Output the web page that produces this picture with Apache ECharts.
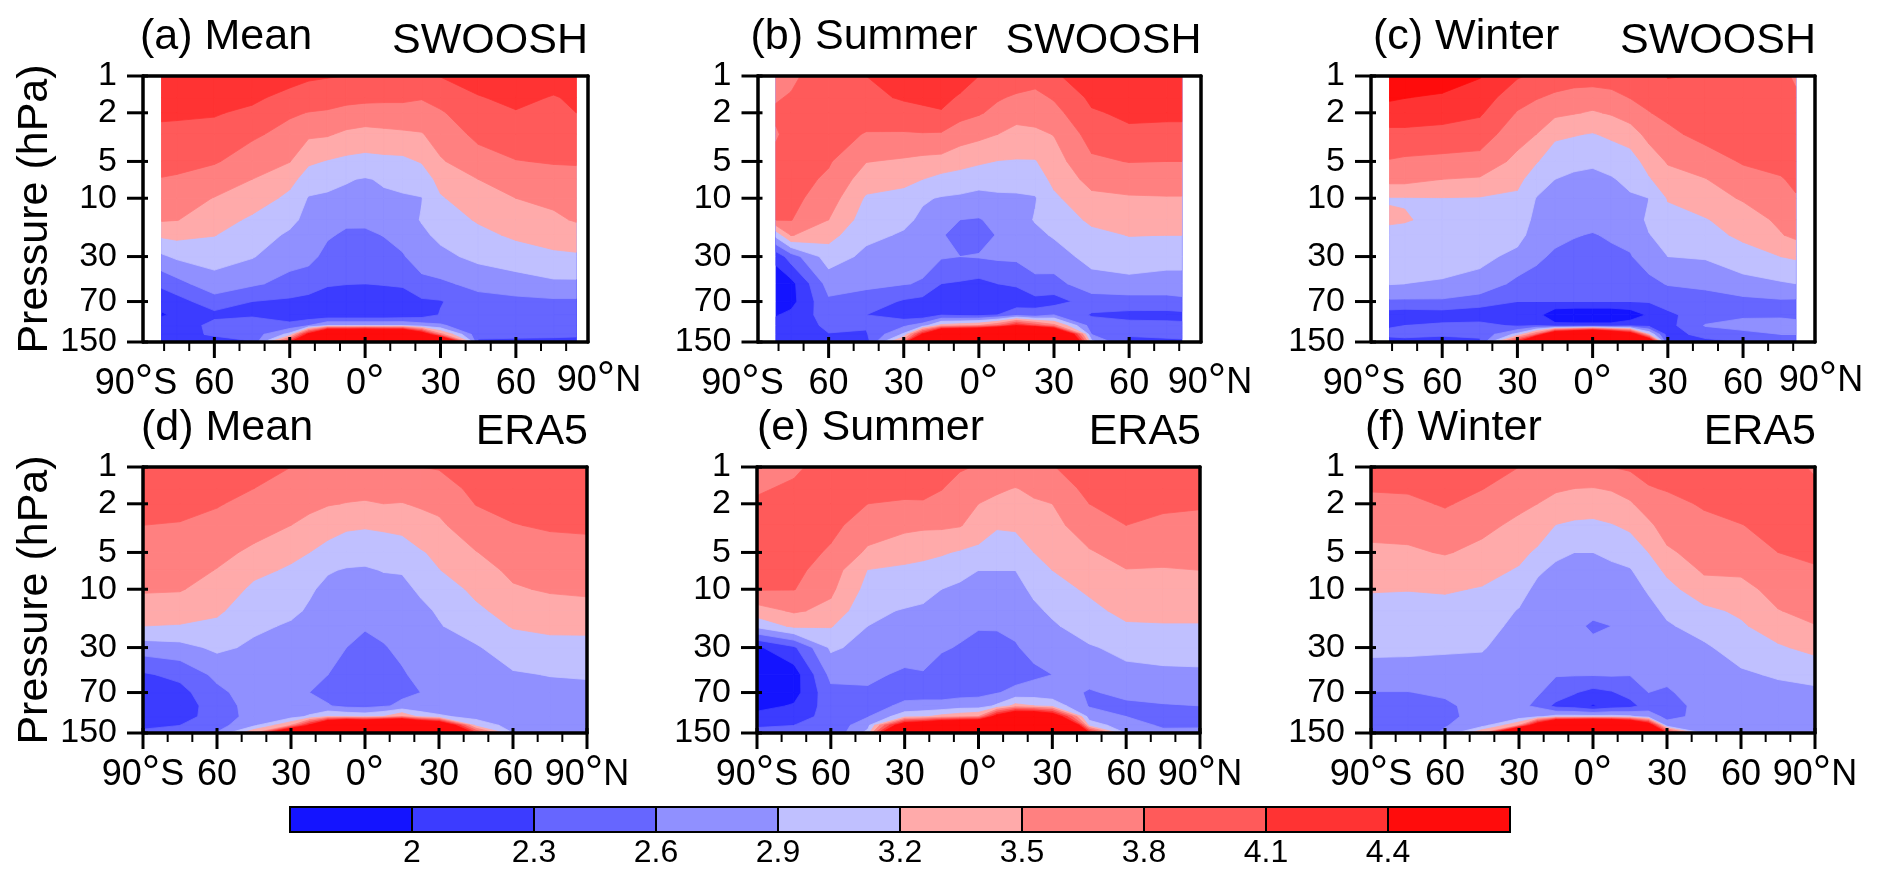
<!DOCTYPE html>
<html><head><meta charset="utf-8"><style>html,body{margin:0;padding:0;background:#fff}#c{width:1892px;height:883px}</style>
<script src="https://cdn.jsdelivr.net/npm/echarts@6/dist/echarts.min.js"></script></head><body><div id="c"></div>
<script>
const pressures=[1,1.5,2,3,5,7,10,15,20,30,50,70,90,110,130,150];
const latsEra=[-90,-75,-60,-45,-30,-22.5,-15,-7.5,0,7.5,15,22.5,30,45,60,75,90];
const latsA=[-81,-75,-60,-45,-30,-22.5,-15,-7.5,0,7.5,15,22.5,30,45,60,75,84];
const latsBC=[-81,-75,-60,-45,-30,-22.5,-15,-7.5,0,7.5,15,22.5,30,45,60,75,81];
const levels=[1.7,2,2.3,2.6,2.9,3.2,3.5,3.8,4.1,4.4,4.7];
const levelLabels=[2,2.3,2.6,2.9,3.2,3.5,3.8,4.1,4.4];
const bandColors=['#1414ff','#3c3cff','#6666ff','#9090ff','#c0c0ff','#ffaaaa','#ff8080','#ff5a5a','#ff3333','#ff0c0c'];
const yTicks=[1,2,5,10,30,70,150];
const xMinorTicks=[-80,-70,-50,-40,-20,-10,10,20,40,50,70,80];
// each inner list = one latitude column, top (1 hPa) to bottom (150 hPa)
const swooshMean=[
[4.35,4.25,4.15,4.03,3.88,3.79,3.65,3.53,3.25,2.85,2.38,2.07,1.98,2.12,2.24,2.2],
[4.33,4.23,4.14,4.03,3.88,3.77,3.62,3.51,3.28,2.95,2.5,2.18,2.03,2.1,2.22,2.2],
[4.35,4.22,4.12,4.02,3.83,3.65,3.49,3.36,3.21,3.02,2.78,2.47,2.22,2.4,2.33,2.2],
[4.3,4.15,4.05,3.85,3.65,3.5,3.38,3.14,3.03,2.92,2.65,2.3,2.28,2.38,2.42,2.28],
[4.2,4.02,3.84,3.7,3.51,3.3,3.12,2.97,2.86,2.72,2.5,2.25,2.1,2.4,3.0,4.3],
[4.14,3.97,3.79,3.55,3.25,3.05,2.88,2.82,2.76,2.68,2.45,2.2,2.06,2.6,4.6,7.5],
[4.12,3.92,3.77,3.53,3.18,3.0,2.85,2.72,2.63,2.52,2.33,2.15,2.05,2.9,6.6,8],
[4.1,3.88,3.72,3.44,3.13,2.92,2.84,2.65,2.56,2.45,2.31,2.12,2.05,2.9,6.6,8.3],
[4.08,3.87,3.68,3.4,3.1,2.88,2.83,2.66,2.55,2.43,2.3,2.1,2.05,2.9,6.8,8.5],
[4.08,3.86,3.68,3.43,3.12,2.93,2.86,2.69,2.61,2.5,2.32,2.12,2.05,2.9,6.6,8.2],
[4.08,3.85,3.7,3.45,3.13,2.98,2.87,2.76,2.68,2.58,2.34,2.15,2.08,2.9,6.5,8],
[4.08,3.82,3.68,3.48,3.22,3.03,2.89,2.92,2.84,2.72,2.53,2.25,2.15,2.75,5,7.5],
[4.11,3.9,3.77,3.63,3.47,3.3,3.17,3.05,2.97,2.82,2.55,2.28,2.32,2.65,3.6,6.5],
[4.25,4.08,3.98,3.87,3.68,3.5,3.38,3.23,3.12,2.98,2.68,2.5,2.42,2.35,2.38,2.25],
[4.3,4.18,4.08,3.95,3.79,3.66,3.5,3.36,3.25,3.05,2.78,2.52,2.44,2.4,2.35,2.25],
[4.25,4.08,4.08,3.97,3.82,3.7,3.55,3.46,3.33,3.14,2.85,2.55,2.42,2.4,2.36,2.22],
[4.2,4.15,4.1,3.98,3.83,3.7,3.58,3.52,3.4,3.15,2.85,2.55,2.35,2.38,2.35,2.2]];
const swooshSummer=[
[3.7,3.77,3.85,3.77,3.88,3.88,3.86,3.81,3.0,2.1,1.8,1.75,1.98,2.1,2.2,2.25],
[3.72,3.83,3.88,3.9,3.92,3.92,3.88,3.81,3.52,2.45,1.9,1.9,2.07,2.15,2.22,2.25],
[4.05,4.02,3.98,3.93,3.83,3.75,3.65,3.5,3.3,3.05,2.72,2.55,2.45,2.35,2.29,2.15],
[4.1,4.03,3.94,3.78,3.51,3.35,3.16,3.05,2.97,2.83,2.66,2.48,2.3,2.33,2.27,2.15],
[4.25,4.13,4.0,3.77,3.46,3.28,3.1,2.96,2.87,2.76,2.62,2.26,2.12,2.55,2.95,3.8],
[4.28,4.15,4.05,3.78,3.42,3.2,2.93,2.85,2.8,2.72,2.57,2.2,2.1,2.75,4.5,7.5],
[4.3,4.17,4.08,3.77,3.4,3.1,2.88,2.72,2.62,2.63,2.3,2.12,2.28,3.3,6.3,8],
[4.22,4.07,3.9,3.65,3.3,3.08,2.85,2.6,2.52,2.6,2.27,2.1,2.22,3.4,6.5,8.2],
[4.1,3.92,3.83,3.58,3.24,3.03,2.8,2.58,2.48,2.62,2.22,2.08,2.2,3.5,6.8,8.5],
[4.03,3.83,3.72,3.5,3.19,3.03,2.84,2.68,2.62,2.65,2.3,2.12,2.3,3.8,7.5,9],
[3.97,3.76,3.62,3.4,3.18,3.03,2.85,2.77,2.72,2.66,2.34,2.12,2.5,4.4,8,9],
[3.92,3.72,3.62,3.44,3.18,3.03,2.88,2.92,2.83,2.74,2.52,2.2,2.4,4,7.5,9],
[4.05,3.83,3.7,3.51,3.37,3.28,3.14,3.0,2.93,2.77,2.5,2.17,2.6,3.6,6.5,8],
[4.3,4.16,4.07,3.92,3.75,3.6,3.43,3.26,3.12,3.0,2.78,2.45,2.27,2.45,2.6,3.0],
[4.35,4.25,4.15,4.05,3.81,3.65,3.47,3.32,3.21,3.05,2.82,2.47,2.22,2.38,2.33,2.22],
[4.35,4.25,4.15,4.03,3.8,3.66,3.48,3.3,3.2,3.03,2.77,2.5,2.2,2.38,2.35,2.25],
[4.35,4.25,4.15,4.03,3.8,3.66,3.48,3.3,3.2,3.02,2.78,2.53,2.22,2.35,2.33,2.28]];
const swooshWinter=[
[4.6,4.45,4.25,4.03,3.78,3.6,3.18,3.24,3.12,3.02,2.92,2.55,2.15,2.28,2.35,2.2],
[4.6,4.41,4.25,4.03,3.75,3.6,3.18,3.22,3.12,3.02,2.9,2.55,2.12,2.3,2.38,2.2],
[4.6,4.35,4.22,4.0,3.72,3.5,3.19,3.13,3.07,2.99,2.88,2.55,2.15,2.35,2.33,2.2],
[4.42,4.25,4.14,3.95,3.7,3.47,3.18,3.1,3.05,2.98,2.8,2.45,2.1,2.4,2.35,2.25],
[4.13,3.92,3.78,3.62,3.42,3.27,3.15,3.08,3.0,2.82,2.52,2.3,2.12,2.25,3.0,4.4],
[4.05,3.82,3.68,3.5,3.22,3.06,2.89,2.82,2.77,2.66,2.48,2.3,2.12,2.3,3.8,6.5],
[3.95,3.75,3.57,3.25,3.05,2.9,2.87,2.75,2.68,2.55,2.42,2.3,1.75,2.1,5.5,8],
[3.96,3.67,3.52,3.22,2.97,2.85,2.85,2.72,2.62,2.5,2.4,2.3,1.7,2.1,6,8.2],
[3.95,3.65,3.47,3.18,2.95,2.82,2.83,2.7,2.58,2.48,2.37,2.3,1.7,2.1,6.6,8.5],
[3.93,3.72,3.53,3.26,2.99,2.88,2.86,2.72,2.64,2.53,2.38,2.3,1.7,2.1,5.8,8.2],
[3.95,3.81,3.65,3.35,3.06,2.96,2.87,2.75,2.68,2.58,2.4,2.3,1.8,2.2,5,8],
[3.95,3.88,3.79,3.6,3.32,3.17,2.9,2.95,2.89,2.75,2.52,2.32,2.05,2.2,3.2,5.5],
[4.12,3.95,3.87,3.73,3.53,3.38,3.22,3.1,3.0,2.9,2.62,2.42,2.24,2.2,2.15,2.1],
[4.08,4.02,3.98,3.9,3.65,3.49,3.37,3.18,3.1,2.93,2.67,2.47,2.45,2.62,2.42,2.2],
[4.05,4.03,4.0,3.93,3.83,3.68,3.53,3.35,3.26,3.08,2.8,2.52,2.57,2.66,2.55,2.3],
[3.98,4.05,4.03,3.97,3.88,3.78,3.65,3.56,3.48,3.2,2.87,2.56,2.55,2.72,2.6,2.35],
[3.7,3.9,3.98,3.95,3.88,3.85,3.78,3.63,3.57,3.24,2.9,2.55,2.52,2.7,2.6,2.4]];
const eraMean=[
[3.97,3.89,3.84,3.8,3.68,3.6,3.53,3.37,3.2,2.75,2.26,2.15,2.12,2.17,2.27,2.33],
[3.98,3.9,3.85,3.79,3.68,3.6,3.52,3.35,3.18,2.8,2.38,2.2,2.14,2.19,2.3,2.35],
[3.98,3.88,3.82,3.72,3.57,3.49,3.38,3.25,3.13,2.96,2.67,2.53,2.45,2.42,2.48,2.62],
[3.94,3.8,3.72,3.6,3.45,3.27,3.14,3.02,2.95,2.85,2.78,2.74,2.72,2.72,2.85,3.5],
[3.8,3.67,3.6,3.5,3.27,3.16,3.06,2.95,2.87,2.76,2.67,2.6,2.65,2.78,3.5,6],
[3.79,3.65,3.57,3.42,3.2,3.05,2.93,2.87,2.8,2.72,2.65,2.6,2.65,2.95,4.5,7],
[3.78,3.63,3.52,3.32,3.1,2.92,2.84,2.78,2.73,2.67,2.6,2.52,2.62,3.2,6,8],
[3.78,3.6,3.49,3.25,3.02,2.88,2.81,2.73,2.68,2.6,2.46,2.45,2.52,3.15,6.8,8.5],
[3.78,3.6,3.47,3.23,3.0,2.87,2.78,2.69,2.63,2.5,2.4,2.42,2.5,3.1,6.5,8.5],
[3.78,3.6,3.5,3.25,3.04,2.91,2.82,2.73,2.67,2.58,2.48,2.48,2.57,3.2,7,8.7],
[3.78,3.6,3.49,3.27,3.08,2.92,2.83,2.76,2.72,2.66,2.57,2.55,2.65,3.5,7,8.5],
[3.8,3.63,3.53,3.4,3.17,3.07,2.94,2.84,2.8,2.74,2.67,2.6,2.67,3.1,6,8],
[3.82,3.68,3.57,3.45,3.27,3.19,3.06,2.93,2.88,2.8,2.73,2.69,2.7,2.95,5.5,7.5],
[4.0,3.87,3.81,3.68,3.49,3.38,3.26,3.15,3.05,2.87,2.75,2.72,2.72,2.8,3.1,4.2],
[4.0,3.92,3.87,3.79,3.65,3.56,3.47,3.3,3.22,3.06,2.87,2.8,2.77,2.76,2.78,2.9],
[4.0,3.95,3.9,3.83,3.7,3.6,3.53,3.38,3.29,3.07,2.91,2.82,2.78,2.76,2.75,2.78],
[4.0,3.95,3.9,3.84,3.72,3.62,3.56,3.39,3.29,3.08,2.93,2.82,2.77,2.74,2.74,2.75]];
const eraSummer=[
[3.62,3.75,3.86,3.94,3.97,3.93,3.82,3.37,2.98,1.95,1.8,1.78,1.9,2.1,2.28,2.35],
[3.72,3.87,3.92,3.95,3.93,3.88,3.81,3.54,3.26,2.25,1.85,1.88,2.03,2.15,2.3,2.4],
[4.0,3.98,3.93,3.88,3.76,3.65,3.56,3.42,3.22,2.95,2.68,2.52,2.45,2.42,2.38,2.33],
[4.0,3.95,3.8,3.65,3.45,3.19,3.1,2.96,2.9,2.8,2.66,2.56,2.5,2.58,2.8,3.0],
[3.95,3.85,3.78,3.58,3.3,3.15,3.05,2.88,2.82,2.74,2.55,2.52,2.65,3.1,5,7],
[3.92,3.83,3.79,3.55,3.27,3.12,2.98,2.86,2.8,2.72,2.58,2.5,2.68,3.15,5.3,7.5],
[3.9,3.81,3.72,3.55,3.23,3.07,2.9,2.8,2.72,2.63,2.48,2.5,2.68,3.3,5.8,8],
[3.83,3.7,3.62,3.52,3.17,2.98,2.85,2.74,2.67,2.58,2.42,2.5,2.75,3.4,6,8.3],
[3.78,3.6,3.5,3.36,3.13,2.9,2.8,2.68,2.62,2.52,2.4,2.52,2.75,3.5,6,8.5],
[3.7,3.54,3.44,3.23,3.04,2.9,2.8,2.68,2.62,2.53,2.42,2.58,2.95,4.7,7.5,9],
[3.72,3.49,3.4,3.24,3.07,2.9,2.8,2.7,2.65,2.58,2.48,2.68,3.3,5.5,8,9],
[3.72,3.55,3.47,3.36,3.2,3.1,2.96,2.84,2.76,2.67,2.55,2.72,3.2,5.5,8,9],
[3.78,3.65,3.5,3.4,3.28,3.2,3.1,2.95,2.86,2.74,2.6,2.7,3.1,5,8,9],
[4.0,3.87,3.8,3.68,3.47,3.32,3.24,3.13,3.05,2.87,2.68,2.58,2.58,2.75,3.1,4.5],
[4.02,3.95,3.9,3.8,3.62,3.49,3.38,3.27,3.17,2.98,2.82,2.65,2.56,2.6,2.7,2.85],
[4.02,3.92,3.85,3.74,3.6,3.48,3.38,3.28,3.18,3.0,2.85,2.7,2.58,2.5,2.57,2.65],
[3.95,3.88,3.83,3.72,3.58,3.5,3.38,3.28,3.18,3.0,2.86,2.72,2.6,2.48,2.55,2.7]];
const eraWinter=[
[3.95,3.82,3.73,3.6,3.44,3.36,3.22,3.1,3.05,2.97,2.78,2.59,2.52,2.48,2.45,2.4],
[3.98,3.84,3.73,3.6,3.46,3.36,3.21,3.1,3.05,2.96,2.78,2.59,2.5,2.46,2.44,2.4],
[4.05,3.93,3.83,3.68,3.52,3.38,3.23,3.1,3.05,2.95,2.75,2.65,2.54,2.52,2.58,2.65],
[3.95,3.81,3.7,3.57,3.43,3.3,3.18,3.08,3.0,2.92,2.8,2.75,2.72,2.72,2.78,3.5],
[3.8,3.66,3.56,3.44,3.28,3.17,3.02,2.88,2.83,2.77,2.71,2.68,2.66,2.72,3.5,7],
[3.76,3.6,3.5,3.37,3.15,2.95,2.82,2.75,2.72,2.7,2.65,2.62,2.55,2.85,5,8],
[3.73,3.53,3.42,3.19,2.97,2.83,2.76,2.7,2.68,2.65,2.61,2.52,2.2,3.0,7,9],
[3.73,3.5,3.38,3.14,2.9,2.83,2.75,2.7,2.67,2.65,2.62,2.32,2.15,3.0,7.2,9],
[3.72,3.49,3.35,3.13,2.9,2.8,2.72,2.68,2.55,2.68,2.62,2.2,1.97,3.0,7.5,9],
[3.8,3.52,3.4,3.18,2.95,2.85,2.77,2.68,2.6,2.67,2.63,2.27,2.12,3.0,7.2,9],
[3.85,3.6,3.47,3.26,3.02,2.88,2.79,2.72,2.68,2.65,2.61,2.42,2.18,2.95,6.5,8.5],
[3.9,3.78,3.62,3.45,3.2,3.05,2.93,2.82,2.78,2.72,2.66,2.6,2.46,2.75,5,8.5],
[3.97,3.82,3.72,3.61,3.46,3.26,3.1,2.95,2.87,2.8,2.66,2.57,2.48,2.52,2.72,4.4],
[4.07,3.93,3.83,3.73,3.6,3.54,3.38,3.13,3.0,2.86,2.76,2.72,2.7,2.68,2.7,2.85],
[4.08,4.0,3.93,3.79,3.65,3.55,3.41,3.25,3.16,3.02,2.86,2.78,2.75,2.72,2.72,2.72],
[4.08,4.03,3.97,3.9,3.8,3.72,3.6,3.49,3.36,3.16,2.93,2.82,2.77,2.74,2.73,2.75],
[3.72,3.9,3.93,3.88,3.82,3.79,3.68,3.58,3.49,3.29,2.98,2.85,2.8,2.77,2.76,2.8]];

const panels=[
{v:swooshMean,lats:latsA,box:[143,76,588,342],top:true,t:'(a) Mean',tl:140,src:'SWOOSH',sr:588,ylab:true,off:[-7,11],dy:-3},
{v:swooshSummer,lats:latsBC,box:[757.5,76,1201,342],top:true,t:'(b) Summer',tl:750.5,src:'SWOOSH',sr:1201.5,off:[-15,9],dy:-1},
{v:swooshWinter,lats:latsBC,box:[1371,76,1815,342],top:true,t:'(c) Winter',tl:1373,src:'SWOOSH',sr:1816,off:[-7,6],dy:-3},
{v:eraMean,lats:latsEra,box:[143,467,587,733],t:'(d) Mean',tl:141,src:'ERA5',sr:588,ylab:true,off:[0,0],dy:0},
{v:eraSummer,lats:latsEra,box:[757,467,1200,733],t:'(e) Summer',tl:757,src:'ERA5',sr:1201,off:[0,0],dy:0},
{v:eraWinter,lats:latsEra,box:[1371,467,1815,733],t:'(f) Winter',tl:1365,src:'ERA5',sr:1816,off:[0,0],dy:0}];

const FF='"Liberation Sans",Arial,sans-serif';
const grid=[],xAxis=[],yAxis=[],series=[],title=[];
function clip(poly,t){const out=[];for(let i=0;i<poly.length;i++){const a=poly[i],b=poly[(i+1)%poly.length];
 if(a[2]>=t)out.push(a);
 if((a[2]>=t)!==(b[2]>=t)){const f=(t-a[2])/(b[2]-a[2]);out.push([a[0]+f*(b[0]-a[0]),a[1]+f*(b[1]-a[1]),t]);}}
 return out;}
function contourItem(P){return function(params,api){
 const k=api.value(2),lo=k===0?-Infinity:levels[k],col=bandColors[k],children=[];
 const pt=P.v.map((c,i)=>c.map((val,j)=>{const q=api.coord([P.lats[i],pressures[j]]);return [q[0],q[1],val];}));
 for(let i=0;i<pt.length-1;i++)for(let j=0;j<pressures.length-1;j++){
  const poly=clip([pt[i][j],pt[i+1][j],pt[i+1][j+1],pt[i][j+1]],lo);
  if(poly.length>2)children.push({type:'polygon',silent:true,shape:{points:poly.map(p=>[p[0],p[1]])},style:{fill:col,stroke:col,lineWidth:0.8}});
 }
 return {type:'group',children};};}
function tickItem(xmin){return function(params,api){
 const kind=api.value(0),v=api.value(1);let s;
 if(kind<2){const p=api.coord([v,150]);s=kind===0?[p[0],p[1]-5,p[0],p[1]+16]:[p[0],p[1],p[0],p[1]+9];}
 else{const p=api.coord([xmin,v]);s=[p[0]-16,p[1],p[0]+5,p[1]];}
 return {type:'line',silent:true,shape:{x1:s[0],y1:s[1],x2:s[2],y2:s[3]},style:{stroke:'#000',lineWidth:kind===1?2:3}};};}
panels.forEach((P,n)=>{
 const [l,t,r,b]=P.box,gi=grid.length;
 grid.push({left:l,top:t,width:r-l,height:b-t});
 const xmin=P.top?-88.4:-90,xmax=P.top?88.7:90;
 const innerVals=[-60,-30,0,30,60];
 const innerTxt=['{n|60}','{n|30}','{n|0}{d|°}','{n|30}','{n|60}'];
 const majT=P.top?[-60,-30,0,30,60]:[-90,-60,-30,0,30,60,90];
 const line={show:true,onZero:false,lineStyle:{color:'#000',width:3.5}};
 const hidden={show:false,onZero:false};
 const xs=xAxis.length;
 const txt={fontFamily:FF,fontSize:36,color:'#000',lineHeight:46};
 const rich={n:txt,d:{fontFamily:FF,fontSize:46,color:'#000',lineHeight:46},
   s:Object.assign({},txt,{padding:[0,-2*P.off[0],0,0]}),
   b:Object.assign({},txt,{padding:[0,0,0,2*P.off[1]]})};
 const ax=(extra)=>Object.assign({min:xmin,max:xmax,type:'value',gridIndex:gi,z:10,splitLine:{show:false},axisTick:{show:false},position:'bottom'},extra);
 xAxis.push(ax({axisLine:line,axisLabel:Object.assign({show:true,customValues:innerVals,margin:19,hideOverlap:false,
     formatter:v=>innerTxt[innerVals.indexOf(v)],rich},txt)}));
 xAxis.push(ax({axisLine:hidden,axisLabel:Object.assign({show:true,customValues:[xmin],margin:19,hideOverlap:false,showMinLabel:true,
     formatter:()=>'{n|90}{d|°}{s|S}',rich},txt)}));
 xAxis.push(ax({axisLine:hidden,axisLabel:Object.assign({show:true,customValues:[xmax],margin:19+P.dy,hideOverlap:false,showMaxLabel:true,
     formatter:()=>'{b|90}{d|°}{n|N}',rich},txt)}));
 xAxis.push(ax({position:'top',axisLine:line,axisLabel:{show:false}}));
 const ys=yAxis.length;
 yAxis.push({type:'log',logBase:10,min:1,max:150,inverse:true,gridIndex:gi,z:10,splitLine:{show:false},axisTick:{show:false},position:'left',axisLine:line,
   axisLabel:{show:true,customValues:yTicks,margin:26,fontFamily:FF,fontSize:34,color:'#000',formatter:v=>String(Math.round(v))},
   name:P.ylab?'Pressure (hPa)':'',nameLocation:'middle',nameRotate:90,nameGap:86,nameTextStyle:{fontFamily:FF,fontSize:43,color:'#000'}});
 yAxis.push({type:'log',logBase:10,min:1,max:150,inverse:true,gridIndex:gi,z:10,splitLine:{show:false},axisTick:{show:false},axisLabel:{show:false},position:'right',axisLine:line});
 series.push({type:'custom',coordinateSystem:'cartesian2d',xAxisIndex:xs,yAxisIndex:ys,clip:true,silent:true,animation:false,z:2,
   data:bandColors.map((c,k)=>[0,10,k]),encode:{x:0,y:1},renderItem:contourItem(P)});
 const tickData=[...majT.map(v=>[0,v]),...xMinorTicks.map(v=>[1,v]),...yTicks.map(v=>[2,v])];
 series.push({type:'custom',coordinateSystem:'cartesian2d',xAxisIndex:xs,yAxisIndex:ys,clip:false,silent:true,animation:false,z:20,
   data:tickData,encode:{},renderItem:tickItem(xmin)});
 title.push({text:P.t,left:P.tl,top:t-60,padding:0,textStyle:{fontFamily:FF,fontSize:43,fontWeight:'normal',color:'#000'}});
 title.push({text:P.src,right:1892-P.sr,top:t-56,padding:0,textStyle:{fontFamily:FF,fontSize:43,fontWeight:'normal',color:'#000'}});
});
// colour bar
const gc=grid.length;
grid.push({left:290,top:807,width:1220,height:25});
const xc=xAxis.length,yc=yAxis.length;
xAxis.push({type:'value',gridIndex:gc,min:1.7,max:4.7,splitLine:{show:false},axisTick:{show:false},axisLine:{show:false,onZero:false},
  axisLabel:{customValues:levelLabels,margin:5,fontFamily:FF,fontSize:32,color:'#000',formatter:v=>String(v)}});
yAxis.push({type:'value',gridIndex:gc,min:0,max:1,splitLine:{show:false},axisTick:{show:false},axisLine:{show:false,onZero:false},axisLabel:{show:false}});
series.push({type:'custom',xAxisIndex:xc,yAxisIndex:yc,silent:true,animation:false,clip:false,z:3,
  data:bandColors.map((c,k)=>[levels[k],levels[k+1],k]),encode:{x:[0,1]},
  renderItem:(p,api)=>{const a=api.coord([api.value(0),1]),b=api.coord([api.value(1),0]);
   return {type:'rect',shape:{x:a[0],y:a[1],width:b[0]-a[0],height:b[1]-a[1]},style:{fill:bandColors[api.value(2)],stroke:'#000',lineWidth:2}};}});
const chart=echarts.init(document.getElementById('c'),null,{renderer:'canvas',width:1892,height:883});
chart.setOption({animation:false,backgroundColor:'#fff',title,grid,xAxis,yAxis,series});
</script></body></html>
